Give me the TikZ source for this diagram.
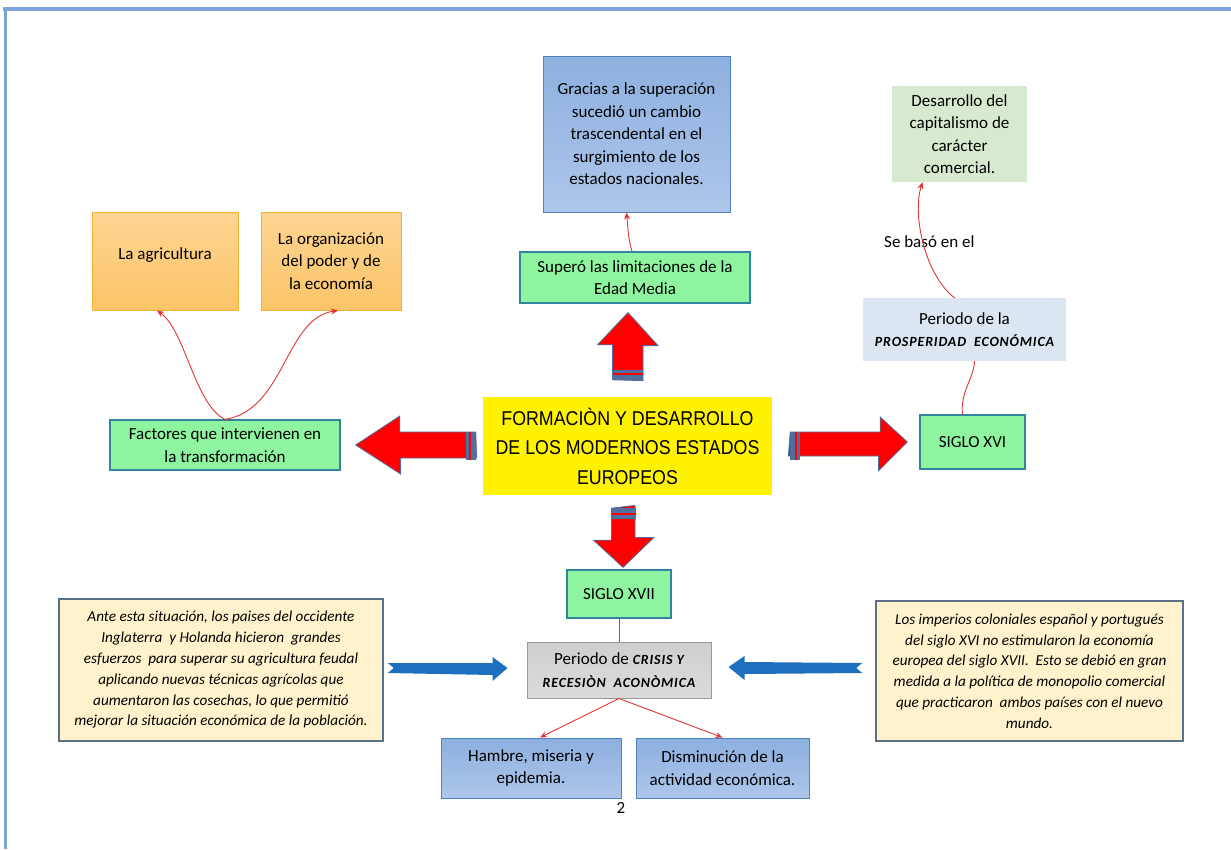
\documentclass[tikz,border=0pt]{standalone}
\usepackage{fontspec}
\setmainfont{Carlito}
\newfontfamily\titlefont[FakeStretch=0.89]{Liberation Sans}
\newfontfamily\spacedfont[LetterSpace=6]{Carlito}
\usetikzlibrary{arrows.meta,calc}
\definecolor{gfill}{HTML}{8EF4A0}
\definecolor{gdraw}{HTML}{31859C}
\definecolor{btop}{HTML}{8DB0DF}
\definecolor{bbot}{HTML}{ADC6EA}
\definecolor{bdraw}{HTML}{4F81BD}
\definecolor{otop}{HTML}{FDD592}
\definecolor{obot}{HTML}{FBC468}
\definecolor{odraw}{HTML}{F2B233}
\definecolor{lgreen}{HTML}{D7EACF}
\definecolor{lblue}{HTML}{DBE6F2}
\definecolor{dfill}{HTML}{FFF2CC}
\definecolor{ddraw}{HTML}{5B6F86}
\definecolor{arrband}{HTML}{4F6FA0}
\definecolor{arrblue}{HTML}{1F6FC0}
\definecolor{conn}{HTML}{E03535}
\definecolor{frame}{HTML}{7BA3DC}
\newcommand\capsfont{\spacedfont\fontsize{14}{16}\selectfont\bfseries\itshape}
\tikzset{
  box/.style={inner sep=0pt, align=center, font=\fontsize{17}{22.5}\selectfont},
  greenbox/.style={box, draw=gdraw, fill=gfill, line width=1.2pt},
  bluebox/.style={box, draw=bdraw, top color=btop, bottom color=bbot, line width=1pt},
  orangebox/.style={box, draw=odraw, top color=otop, bottom color=obot, line width=1pt},
  descbox/.style={box, draw=ddraw, fill=dfill, line width=1.5pt, font=\fontsize{15.2}{20.8}\selectfont\itshape},
  fat/.style={fill=red, draw=arrband, line width=0.8pt, line join=miter},
  conn/.style={draw=conn, line width=0.9pt, -{Stealth[length=7pt,width=6pt]}},
  plain/.style={draw=conn, line width=0.9pt}
}
\begin{document}
\begin{tikzpicture}[x=1pt,y=-1pt]
\useasboundingbox (0,0) rectangle (1231,849);
\fill[white] (0,0) rectangle (1231,849);
% page frame
\draw[frame, line width=3.5pt] (3,9) -- (1231,9);
\draw[frame, line width=3pt] (5,9) -- (5,849);

% nodes
\node[bluebox, minimum width=187pt, minimum height=156pt] (gracias) at (636.5,134)
  {Gracias a la superación\\sucedió un cambio\\trascendental en el\\surgimiento de los\\estados nacionales.};
\node[greenbox, minimum width=230pt, minimum height=51pt] (supero) at (635,277.5)
  {Superó las limitaciones de la\\Edad Media};
\node[box, fill=lgreen, minimum width=135pt, minimum height=96pt] (desarrollo) at (959.5,134)
  {Desarrollo del\\capitalismo de\\carácter\\comercial.};
\node[box, anchor=west] (sebaso) at (884,242) {Se basó en el};
\node[box, fill=lblue, minimum width=203pt, minimum height=63pt] (prosper) at (964.5,329.5)
  {Periodo de la\\[-1pt]{\capsfont PROSPERIDAD\ \ ECONÓMICA}};
\node[greenbox, minimum width=105pt, minimum height=54pt] (xvi) at (972.5,442) {SIGLO XVI};
\node[orangebox, minimum width=146pt, minimum height=98pt, text depth=14pt] (agri) at (165,261) {La agricultura};
\node[orangebox, minimum width=140pt, minimum height=98pt] (org) at (331,261)
  {La organización\\del poder y de\\la economía};
\node[greenbox, minimum width=230pt, minimum height=50pt] (factores) at (225,445)
  {Factores que intervienen en\\la transformación};
\node[box, fill=yellow, minimum width=289pt, minimum height=98pt,
      font=\titlefont\fontsize{20}{29.5}\selectfont] (title) at (627.5,446)
  {FORMACIÒN Y DESARROLLO\\DE LOS MODERNOS ESTADOS\\EUROPEOS};
\node[greenbox, minimum width=104pt, minimum height=48pt] (xvii) at (619,594) {SIGLO XVII};
\node[box, draw=gray!80, top color=gray!38, bottom color=gray!28, line width=1pt,
      minimum width=184pt, minimum height=56pt] (crisis) at (619,670)
  {Periodo de {\capsfont CRISIS Y}\\[0pt]{\capsfont RECESIÒN\ \ ACONÒMICA}};
\node[bluebox, minimum width=180pt, minimum height=60pt] (hambre) at (531,768)
  {Hambre, miseria y\\epidemia.};
\node[bluebox, minimum width=173pt, minimum height=60pt] (dismin) at (722.5,768)
  {Disminución de la\\actividad económica.};
\node[box] (pagenum) at (621,808) {2};
\node[descbox, minimum width=324pt, minimum height=142pt] (leftdesc) at (221,670)
  {Ante esta situación, los paises del occidente\\Inglaterra\ \ y Holanda hicieron\ \ grandes\\esfuerzos\ \ para superar su agricultura\ feudal\\aplicando nuevas técnicas\ agrícolas que\\aumentaron las cosechas,\ lo que permitió\\mejorar la situación económica de la población.};
\node[descbox, minimum width=307pt, minimum height=140pt] (rightdesc) at (1029.5,671)
  {Los imperios coloniales\ español y portugués\\del siglo XVI no estimularon la economía\\europea del siglo XVII.\ \ Esto se debió en gran\\medida a la política de monopolio comercial\\que practicaron\ \ ambos países con el nuevo\\mundo.};

% fat red arrows
% left
\path (title.west) ++(-7,0) coordinate (lt);
\draw[fat] (lt) ++(0,-14) -- ++(-76,0) -- ++(0,-16) -- ($(factores.east)+(15,0)$) -- ++(45,29) -- ++(0,-16) -- ++(76,0) -- cycle;
\fill[arrband] ($(lt)+(-10,-14)$) rectangle ($(lt)+(0,14)$);
\draw[red, line width=1.5pt] ($(lt)+(-6,-14)$) -- ($(lt)+(-6,14)$);
% right
\path (title.east) ++(18,0) coordinate (rt);
\draw[fat] (rt) ++(0,-14) -- ++(90,0) -- ++(0,-15) -- ($(xvi.west)+(-12,0)$) -- ++(-29,29) -- ++(0,-15) -- ++(-90,0) -- cycle;
\fill[arrband] ($(rt)+(0,-14)$) rectangle ($(rt)+(10,14)$);
\draw[red, line width=1.5pt] ($(rt)+(6,-14)$) -- ($(rt)+(6,14)$);
% up
\path (title.north) ++(0,-17) coordinate (ut);
\draw[fat] (ut) ++(-15,0) -- ++(0,-35) -- ++(-15,0) -- ($(supero.south)+(-7,9)$) -- ++(30,33) -- ++(-15,0) -- ++(0,35) -- cycle;
\fill[arrband] ($(ut)+(-15,-10)$) rectangle ($(ut)+(15,0)$);
\draw[red, line width=1.5pt] ($(ut)+(-15,-6)$) -- ($(ut)+(15,-6)$);
% down
\path (title.south) ++(-4,13) coordinate (dt);
\draw[fat] (dt) ++(-12,0) -- ++(0,32) -- ++(-18,0) -- ($(xvii.north)+(4,-2)$) -- ++(31,-30) -- ++(-19,0) -- ++(0,-32) -- cycle;
\fill[arrband] ($(dt)+(-12,0)$) rectangle ($(dt)+(12,11)$);
\draw[red, line width=1.5pt] ($(dt)+(-12,6)$) -- ($(dt)+(12,6)$);

% blue arrows
\path (leftdesc.east) ++(4,-2) coordinate (lb);
\fill[arrblue] (lb) ++(0,-5) -- ($(crisis.west)+(-34,-7)$) -- ++(0,-6) -- ($(crisis.west)+(-19,-2)$) -- ($(crisis.west)+(-34,11)$) -- ++(0,-6) -- ($(lb)+(0,5)$) -- ($(lb)+(6,0)$) -- cycle;
\path (rightdesc.west) ++(-13,-3) coordinate (rb);
\fill[arrblue] (rb) ++(0,-5) -- ($(crisis.east)+(33,-8)$) -- ++(0,-6) -- ($(crisis.east)+(17,-3)$) -- ($(crisis.east)+(33,10)$) -- ++(0,-6) -- ($(rb)+(0,5)$) -- ($(rb)+(-6,0)$) -- cycle;

% thin red connectors
\draw[conn] (factores.north) .. controls (195,405) and (185,330) .. ($(agri.south)+(-8,0)$);
\draw[conn] (factores.north) .. controls (285,410) and (285,318) .. ($(org.south)+(7,0)$);
\draw[conn] ($(supero.north)+(-3,0)$) .. controls (628,238) and (628,228) .. ($(gracias.south)+(-10,0)$);
\draw[conn] ($(prosper.north)+(-10,0)$) .. controls (925,275) and (912,215) .. ($(desarrollo.south)+(-37,0)$);
\draw[plain] ($(xvi.north)+(-10,0)$) .. controls (960,392) and (974,378) .. ($(prosper.south)+(10,0)$);
\draw[plain] (xvii.south) -- (crisis.north);
\draw[conn] (crisis.south) -- ($(hambre.north)+(9,0)$);
\draw[conn] (crisis.south) -- (dismin.north);
\end{tikzpicture}
\end{document}
